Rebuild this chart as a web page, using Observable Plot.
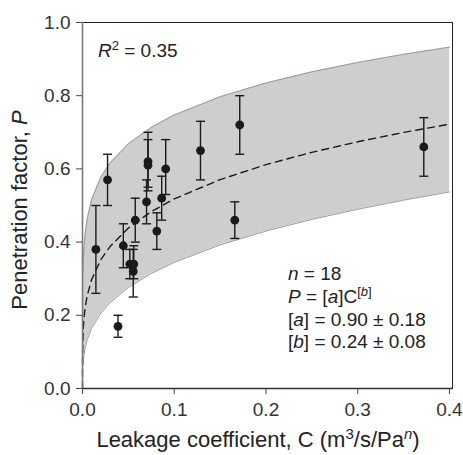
<!DOCTYPE html>
<html>
<head>
<meta charset="utf-8">
<script src="https://cdn.jsdelivr.net/npm/d3@7"></script>
<script src="https://cdn.jsdelivr.net/npm/@observablehq/plot@0.6"></script>
<style>
  html, body { margin: 0; padding: 0; background: #fff; }
  svg { display: block; }
</style>
</head>
<body>
<div id="chart"></div>
<script>
// ---- Measured data points (leakage coefficient C, penetration factor P, error bar ends)
const leakC   = [0.0146, 0.0273, 0.0387, 0.0445, 0.0516, 0.0559, 0.0553, 0.0575, 0.0698, 0.0714, 0.0714, 0.0810, 0.0863, 0.0907, 0.1286, 0.1660, 0.1714, 0.3720];
const penP    = [0.38, 0.57, 0.17, 0.39, 0.34, 0.34, 0.32, 0.46, 0.51, 0.62, 0.61, 0.43, 0.52, 0.60, 0.65, 0.46, 0.72, 0.66];
const penHigh = [0.50, 0.64, 0.20, 0.45, 0.38, 0.39, 0.38, 0.52, 0.57, 0.70, 0.68, 0.48, 0.58, 0.68, 0.73, 0.51, 0.80, 0.74];
const penLow  = [0.26, 0.50, 0.14, 0.33, 0.30, 0.30, 0.25, 0.40, 0.45, 0.54, 0.55, 0.38, 0.46, 0.53, 0.57, 0.41, 0.64, 0.58];

// ---- Fitted curve (dashed)
const fitC = [0, 0.0001, 0.001, 0.0025, 0.005, 0.01, 0.02, 0.03, 0.05, 0.075, 0.1, 0.15, 0.2, 0.25, 0.3, 0.35, 0.4];
const fitP = [0, 0.0987, 0.1714, 0.2136, 0.2524, 0.2980, 0.3520, 0.3879, 0.4386, 0.4833, 0.5179, 0.5708, 0.6117, 0.6453, 0.6741, 0.6996, 0.7223];

// ---- Confidence band (grey)
const bandC  = [0.0005, 0.001, 0.0025, 0.005, 0.01, 0.02, 0.03, 0.05, 0.075, 0.1, 0.15, 0.2, 0.25, 0.3, 0.35, 0.4];
const bandLo = [0.0632, 0.0789, 0.1058, 0.1321, 0.1649, 0.2059, 0.2344, 0.2760, 0.3143, 0.3446, 0.3923, 0.4302, 0.4620, 0.4897, 0.5146, 0.5371];
const bandHi = [0.3201, 0.3576, 0.4141, 0.4627, 0.5169, 0.5776, 0.6162, 0.6687, 0.7136, 0.7472, 0.7973, 0.8348, 0.8652, 0.8908, 0.9130, 0.9327];

// ---- Tick values
const xTicks = [0, 0.1, 0.2, 0.3, 0.4];
const yTicks = [0, 0.2, 0.4, 0.6, 0.8, 1.0];

const pts  = leakC.map((c, i) => ({c, p: penP[i], hi: penHigh[i], lo: penLow[i]}));
const fit  = fitC.map((c, i) => ({c, p: fitP[i]}));
const band = bandC.map((c, i) => ({c, lo: bandLo[i], hi: bandHi[i]}));

const capSymbol = {
  draw(context, size) {
    const w = Math.sqrt(size / Math.PI);
    context.moveTo(-w, 0);
    context.lineTo(w, 0);
  }
};

const ink = "#1a1a1a";
const FONT = "'Liberation Sans', Arial, Helvetica, sans-serif";

const plot = Plot.plot({
  width: 463,
  height: 455,
  marginLeft: 82,
  marginRight: 11,
  marginTop: 22,
  marginBottom: 67,
  style: {fontFamily: FONT, fontSize: "19px", color: "#333", background: "#fff"},
  x: {domain: [0, 0.4033]},
  y: {domain: [0, 1]},
  marks: [
    Plot.areaY(band, {x: "c", y1: "lo", y2: "hi", fill: "#cdcecf"}),
    Plot.line(band, {x: "c", y: "hi", stroke: "#9a9a9a", strokeWidth: 1}),
    Plot.line(band, {x: "c", y: "lo", stroke: "#9a9a9a", strokeWidth: 1}),
    Plot.line(fit, {x: "c", y: "p", stroke: ink, strokeWidth: 1.4, strokeDasharray: "7,5"}),
    Plot.ruleX(pts, {x: "c", y1: "lo", y2: "hi", stroke: ink, strokeWidth: 1.4}),
    Plot.dot(pts, {x: "c", y: "hi", symbol: capSymbol, r: 4.5, stroke: ink, strokeWidth: 1.4}),
    Plot.dot(pts, {x: "c", y: "lo", symbol: capSymbol, r: 4.5, stroke: ink, strokeWidth: 1.4}),
    Plot.dot(pts, {x: "c", y: "p", r: 4.4, fill: ink, stroke: "none"}),
    Plot.frame({stroke: "#222", strokeWidth: 1}),
    Plot.ruleX([0], {stroke: "#7a7a7a", strokeWidth: 1.6}),
    Plot.ruleY([0], {stroke: "#333", strokeWidth: 1.4}),
    Plot.axisX({ticks: xTicks, tickFormat: d3.format(".1f"), tickSize: 6, tickPadding: 8, stroke: "#444", label: null}),
    Plot.axisY({ticks: yTicks, tickFormat: d3.format(".1f"), tickSize: 6, tickPadding: 6, stroke: "#444", label: null})
  ]
});

document.getElementById("chart").appendChild(plot);

const svg = d3.select(plot);
const sx = plot.scale("x"), sy = plot.scale("y");

function addText(g, x, y, parts, size, anchor) {
  const t = g.append("text")
    .attr("x", x).attr("y", y)
    .attr("font-family", FONT)
    .attr("font-size", size)
    .attr("fill", "#222")
    .attr("text-anchor", anchor || "start");
  parts.forEach(p => {
    const s = t.append("tspan").text(p.t);
    if (p.i) s.attr("font-style", "italic");
    if (p.sup) s.attr("font-size", Math.round(size * 0.68)).attr("dy", -size * 0.38);
    if (p.down) s.attr("dy", size * 0.38);
  });
  return t;
}

const g = svg.append("g");

// R² annotation
addText(g, 98, 57, [{t: "R", i: true}, {t: "2", sup: true}, {t: " = 0.35", down: true}], 19);

// Fit statistics block
const ax = 288;
addText(g, ax, 280, [{t: "n", i: true}, {t: " = 18"}], 19);
addText(g, ax, 303, [{t: "P", i: true}, {t: " = ["}, {t: "a", i: true}, {t: "]C"}, {t: "[", sup: true}, {t: "b", i: true}, {t: "]"}], 19)
  .selectAll("tspan").each(function(d, i) {
    // superscript group: make "b" and "]" also superscript size
    if (i >= 5) d3.select(this).attr("font-size", 13);
  });
addText(g, ax, 326, [{t: "["}, {t: "a", i: true}, {t: "] = 0.90 ± 0.18"}], 19);
addText(g, ax, 348, [{t: "["}, {t: "b", i: true}, {t: "] = 0.24 ± 0.08"}], 19);

// X axis title
addText(g, 258, 447, [{t: "Leakage coefficient, C (m"}, {t: "3", sup: true}, {t: "/s/Pa", down: true}, {t: "n", i: true, sup: true}, {t: ")", down: true}], 22, "middle");

// Y axis title
addText(g, 0, 0, [{t: "Penetration factor, "}, {t: "P", i: true}], 22, "middle")
  .attr("transform", "translate(27,210) rotate(-90)");
</script>
</body>
</html>
